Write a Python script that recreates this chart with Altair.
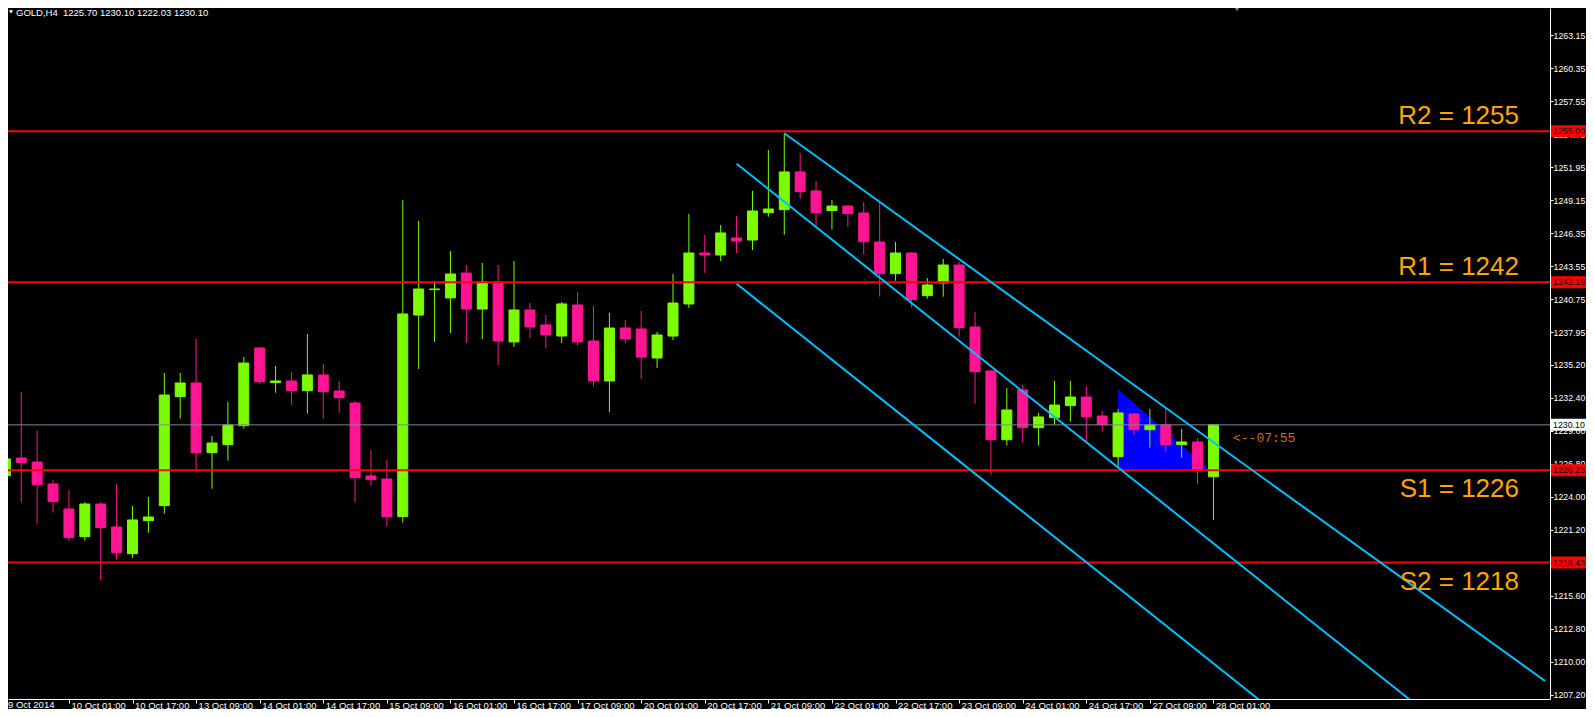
import altair as alt
import pandas as pd

# ---------------- data ----------------
candle_idx = list(range(77))
opens = [1225.79, 1227.29, 1226.95, 1225.09, 1222.97, 1220.62, 1223.39, 1221.44, 1219.18, 1221.98,
         1223.25, 1232.49, 1233.65, 1227.74, 1228.42, 1230.03, 1236.62, 1233.68, 1233.82, 1233.00,
         1234.33, 1232.97, 1231.95, 1225.77, 1225.51, 1222.32, 1239.41, 1241.56, 1240.86, 1242.97,
         1239.92, 1242.21, 1237.13, 1239.84, 1238.57, 1237.63, 1240.26, 1237.21, 1233.82, 1238.31,
         1238.23, 1235.77, 1237.63, 1240.35, 1244.67, 1244.50, 1245.94, 1245.77, 1248.09, 1248.34,
         1251.54, 1249.93, 1248.26, 1248.65, 1248.06, 1245.60, 1242.92, 1244.67, 1241.05, 1242.13,
         1243.65, 1238.40, 1234.67, 1228.84, 1233.06, 1229.86, 1230.71, 1231.73, 1232.46, 1230.85,
         1227.40, 1231.02, 1229.69, 1230.09, 1228.42, 1228.65, 1225.70]
highs = [1229.50, 1232.89, 1229.58, 1225.43, 1224.58, 1223.56, 1223.56, 1225.09, 1223.22, 1223.99,
         1234.50, 1234.50, 1237.38, 1229.16, 1232.04, 1235.85, 1236.70, 1235.09, 1234.58, 1237.80,
         1235.26, 1233.82, 1232.12, 1227.97, 1227.12, 1249.16, 1247.38, 1242.30, 1244.84, 1243.65,
         1243.82, 1243.65, 1243.99, 1240.43, 1239.41, 1240.52, 1241.36, 1240.18, 1239.58, 1238.99,
         1239.75, 1237.97, 1242.89, 1247.98, 1246.20, 1247.04, 1247.81, 1249.93, 1253.40, 1254.81,
         1253.15, 1250.77, 1249.16, 1248.70, 1248.99, 1248.91, 1245.60, 1244.75, 1242.55, 1244.16,
         1243.93, 1239.67, 1234.70, 1233.22, 1233.48, 1231.11, 1233.82, 1233.82, 1233.39, 1231.28,
         1231.44, 1231.11, 1231.44, 1231.44, 1229.75, 1228.99, 1230.10]
lows = [1224.52, 1223.50, 1221.72, 1222.66, 1220.28, 1220.28, 1216.95, 1218.67, 1218.84, 1220.96,
        1222.57, 1230.63, 1226.05, 1224.69, 1227.07, 1229.78, 1233.59, 1232.83, 1231.81, 1231.05,
        1230.63, 1231.13, 1223.50, 1224.95, 1221.47, 1221.81, 1234.84, 1237.13, 1237.89, 1237.04,
        1237.38, 1235.18, 1236.70, 1237.46, 1236.62, 1237.04, 1236.79, 1233.39, 1231.19, 1237.04,
        1233.99, 1234.92, 1237.29, 1240.01, 1242.97, 1243.99, 1244.67, 1244.92, 1247.75, 1246.22,
        1249.28, 1246.96, 1246.65, 1246.90, 1244.53, 1240.97, 1242.32, 1240.04, 1240.80, 1240.97,
        1237.58, 1231.90, 1225.88, 1228.34, 1228.59, 1228.34, 1230.12, 1230.37, 1228.68, 1229.52,
        1226.56, 1229.27, 1228.17, 1227.83, 1227.32, 1225.11, 1222.03]
closes = [1227.21, 1226.90, 1225.03, 1223.59, 1220.54, 1223.39, 1221.39, 1219.27, 1222.04, 1222.29,
          1232.63, 1233.65, 1227.74, 1228.56, 1230.09, 1235.34, 1233.76, 1233.82, 1233.00, 1234.33,
          1232.91, 1232.41, 1225.62, 1225.45, 1222.32, 1239.50, 1241.62, 1241.62, 1242.89, 1239.92,
          1242.21, 1237.21, 1239.84, 1238.40, 1237.72, 1240.35, 1237.13, 1233.82, 1238.31, 1237.38,
          1235.85, 1237.72, 1240.43, 1244.67, 1244.50, 1246.37, 1245.69, 1248.23, 1248.40, 1251.54,
          1249.87, 1248.09, 1248.65, 1248.00, 1245.63, 1242.92, 1244.67, 1240.71, 1241.96, 1243.65,
          1238.34, 1234.61, 1228.84, 1231.36, 1229.86, 1230.77, 1231.78, 1232.46, 1230.79, 1230.12,
          1231.11, 1229.69, 1230.09, 1228.42, 1228.65, 1226.30, 1230.10]

# time axis labels (every 4th H4 candle)
tick_idx = [0, 4, 8, 12, 16, 20, 24, 28, 32, 36, 40, 44, 48, 52, 56, 60, 64, 68, 72, 76]
tick_labels = ["9 Oct 2014", "10 Oct 01:00", "10 Oct 17:00", "13 Oct 09:00", "14 Oct 01:00",
               "14 Oct 17:00", "15 Oct 09:00", "16 Oct 01:00", "16 Oct 17:00", "17 Oct 09:00",
               "20 Oct 01:00", "20 Oct 17:00", "21 Oct 09:00", "22 Oct 01:00", "22 Oct 17:00",
               "23 Oct 09:00", "24 Oct 01:00", "24 Oct 17:00", "27 Oct 09:00", "28 Oct 01:00"]

# price axis labels
price_ticks = [1265.95, 1263.15, 1260.35, 1257.55, 1254.75, 1251.95, 1249.15, 1246.35, 1243.55,
               1240.75, 1237.95, 1235.20, 1232.40, 1229.60, 1226.80, 1224.00, 1221.20, 1218.40,
               1215.60, 1212.80, 1210.00, 1207.20]

# support / resistance levels
level_prices = [1255.00, 1242.18, 1226.25, 1218.43]
level_names = ["R2 = 1255", "R1 = 1242", "S1 = 1226", "S2 = 1218"]
level_side = ["above", "above", "below", "below"]
level_tags = ["1255.00", "1242.18", "1226.25", "1218.43"]

current_price = 1230.10
current_tag = "1230.10"
timer_text = "<--07:55"
header_text = "GOLD,H4\u00a0 1225.70 1230.10 1222.03 1230.10"

# descending channel lines (candle index, price)
chan_names = ["upper", "upper", "middle", "middle", "lower", "lower"]
chan_idx = [49, 96.86, 46, 96.86, 46, 96.86]
chan_price = [1254.82, 1208.39, 1252.24, 1197.67, 1242.06, 1187.49]

# blue triangle
tri_idx = [70, 75.71]
tri_top = [1233.11, 1226.33]
tri_bottom = [1226.33, 1226.33]

# ---------------- tables ----------------
df = pd.DataFrame({"i": candle_idx, "open": opens, "high": highs, "low": lows, "close": closes})
df["dir"] = ["up" if c >= o else "down" for o, c in zip(opens, closes)]

levels = pd.DataFrame({"price": level_prices, "name": level_names, "side": level_side,
                       "tag": level_tags})
tags = pd.DataFrame({"price": level_prices + [current_price],
                     "tag": level_tags + [current_tag],
                     "bg": ["red"] * 4 + ["white"]})
chan = pd.DataFrame({"line": chan_names, "i": chan_idx, "price": chan_price})
tri = pd.DataFrame({"i": tri_idx, "top": tri_top, "bottom": tri_bottom})
cur = pd.DataFrame({"price": [current_price], "t": [timer_text]})
hdr = pd.DataFrame({"t": [header_text]})
first_lab = pd.DataFrame({"t": [tick_labels[0]]})

# ---------------- scales / axes ----------------
FONT = "Liberation Sans"
xs = alt.Scale(domain=[0.48125, 96.85625], nice=False, zero=False)
ys = alt.Scale(domain=[1206.86, 1265.439], nice=False, zero=False)
cs = alt.Scale(domain=["up", "down"], range=["#7CFC00", "#FF1493"])

label_map = "{" + ",".join(f"'{k}':'{v}'" for k, v in zip(tick_idx, tick_labels)) + "}"
x_axis = alt.Axis(values=tick_idx, labelExpr=f"{label_map}[datum.value]", orient="bottom",
                  domainColor="white", tickColor="white", tickSize=4, labelColor="white",
                  labelFont=FONT, labelFontSize=9.5, labelAlign="left",
                  labelBaseline="alphabetic", labelPadding=5, labelOffset=2,
                  labelFlush=False, labelOverlap=False, grid=False, title=None)
y_axis = alt.Axis(values=price_ticks, format=".2f", orient="right", domainColor="white",
                  tickColor="white", tickSize=3, labelColor="white", labelFont=FONT,
                  labelFontSize=8.8, labelPadding=0, labelFlush=False, labelOverlap=False,
                  grid=False, title=None)


def X(field):
    return alt.X(field, type="quantitative", scale=xs, axis=x_axis)


def Y(field):
    return alt.Y(field, type="quantitative", scale=ys, axis=y_axis)


triangle = alt.Chart(tri).mark_area(color="#0000FF", opacity=1, clip=True).encode(
    x=X("i"), y=Y("top"), y2="bottom:Q")

wicks = alt.Chart(df).mark_rule(strokeWidth=1, clip=True).encode(
    x=X("i"), y=Y("low"), y2="high:Q",
    color=alt.Color("dir:N", scale=cs, legend=None))

bodies = alt.Chart(df).mark_bar(size=10, strokeWidth=1, clip=True).encode(
    x=X("i"), y=Y("open"), y2="close:Q",
    fill=alt.Fill("dir:N", scale=cs, legend=None),
    stroke=alt.Stroke("dir:N", scale=cs, legend=None))

cur_line = alt.Chart(cur).mark_rule(color="#7A8898", strokeWidth=1).encode(y=Y("price"))

red_lines = alt.Chart(levels).mark_rule(color="#FF0000", strokeWidth=2).encode(y=Y("price"))

channels = alt.Chart(chan).mark_line(color="#00BFFF", strokeWidth=2, clip=True).encode(
    x=X("i"), y=Y("price"), detail="line:N")

lab_above = alt.Chart(levels).transform_filter("datum.side == 'above'").mark_text(
    align="right", baseline="alphabetic", dy=-7, font=FONT, fontSize=26, color="#FFA500").encode(
    x=alt.value(1511), y=Y("price"), text="name:N")
lab_below = alt.Chart(levels).transform_filter("datum.side == 'below'").mark_text(
    align="right", baseline="alphabetic", dy=27, font=FONT, fontSize=26, color="#FFA500").encode(
    x=alt.value(1511), y=Y("price"), text="name:N")

tag_boxes = alt.Chart(tags).mark_rect(yOffset=-6, y2Offset=6).encode(
    x=alt.value(1543), x2=alt.value(1590),
    y=Y("price"), y2="price:Q",
    color=alt.Color("bg:N", scale=None, legend=None))
tag_text = alt.Chart(tags).mark_text(align="left", baseline="middle", font=FONT,
                                     fontSize=8.8, color="black").encode(
    x=alt.value(1545), y=Y("price"), text="tag:N")

timer = alt.Chart(cur).mark_text(align="left", baseline="alphabetic", dy=17,
                                 font="Liberation Mono", fontSize=13, color="#D2691E").encode(
    x=alt.value(1225), y=Y("price"), text="t:N")

header_mark = alt.Chart(hdr).mark_point(shape="triangle-down", filled=True, size=18,
                                        color="white", opacity=1).encode(
    x=alt.value(3), y=alt.value(4))
header = alt.Chart(hdr).mark_text(align="left", baseline="top", font=FONT, fontSize=9.5,
                                  color="white").encode(
    x=alt.value(8), y=alt.value(0), text="t:N")
shift_mark = alt.Chart(hdr).mark_point(shape="triangle-down", filled=True, size=30,
                                       color="#7F8C9A", opacity=1).encode(
    x=alt.value(1229), y=alt.value(1))
first_date = alt.Chart(first_lab).mark_text(align="left", baseline="alphabetic", font=FONT,
                                            fontSize=9.5, color="white").encode(
    x=alt.value(0), y=alt.value(700), text="t:N")

chart = alt.layer(
    triangle, wicks, bodies, cur_line, red_lines, channels,
    lab_above, lab_below, tag_boxes, tag_text, timer, header_mark, header, shift_mark,
    first_date
).properties(
    width=1542, height=691, background="black",
    autosize=alt.AutoSizeParams(type="none"),
    padding={"left": 0, "top": 0, "right": 36, "bottom": 10}
).configure_view(strokeWidth=0)

chart.save("out.html", embed_options={"renderer": "svg", "actions": False})
